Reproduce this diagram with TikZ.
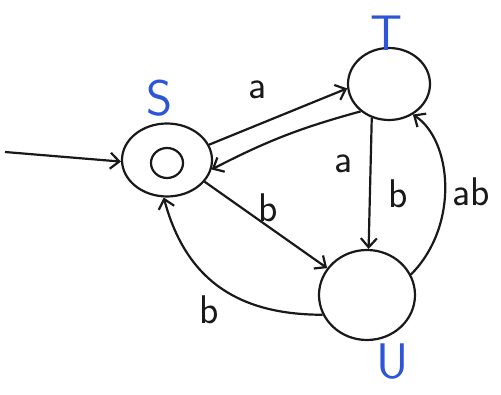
\documentclass[tikz,border=0pt]{standalone}
\usetikzlibrary{arrows.meta,shapes.geometric}
\definecolor{ink}{RGB}{25,25,25}
\definecolor{pen}{RGB}{45,85,215}
\begin{document}
\begin{tikzpicture}[x=1pt,y=-1pt,
  state/.style={draw=ink,ellipse,line width=2.2pt,inner sep=0pt},
  edge/.style={draw=ink,line width=2.2pt,-{Straight Barb[length=9pt,width=16pt,line width=2.2pt]}},
  lab/.style={font=\sffamily\fontsize{40}{40}\selectfont,text=ink,inner sep=0pt},
  slab/.style={font=\sffamily\fontsize{50}{50}\selectfont,text=pen,inner sep=0pt}]
\useasboundingbox (0,0) rectangle (501,395);
\node[state,minimum width=90pt,minimum height=73pt] (S) at (167,160) {};
\draw[ink,line width=2.2pt] (167,163) ellipse [x radius=16pt,y radius=15pt];
\node[state,minimum width=82pt,minimum height=72pt] (T) at (389,84) {};
\node[state,minimum width=96pt,minimum height=90pt] (U) at (367,295) {};
\node[slab] (lS) at (160,98) {S};
\node[slab] (lT) at (387,33) {T};
\node[slab] (lU) at (393,362) {U};
\coordinate (start) at (5,152);
\draw[edge] (start) -- (S.182);
\draw[edge] (S.20) -- (T.186);
\draw[edge] (T.224) to[bend right=6] (S.-12);
\draw[edge] (T.243) -- (U.88);
\draw[edge] (U.25) .. controls (460,225) and (452,140) .. (T.-52);
\draw[edge] (S.-30) -- (U.146);
\draw[edge] (U.204) to[out=180,in=-75,looseness=1.1] (S.-95);
\node[lab] (a1) at (258,90) {a};
\node[lab] (a2) at (344,164) {a};
\node[lab] (b1) at (398,194) {b};
\node[lab] (ab) at (471,192) {ab};
\node[lab] (b2) at (268,208) {b};
\node[lab] (b3) at (209,310) {b};
\end{tikzpicture}
\end{document}
